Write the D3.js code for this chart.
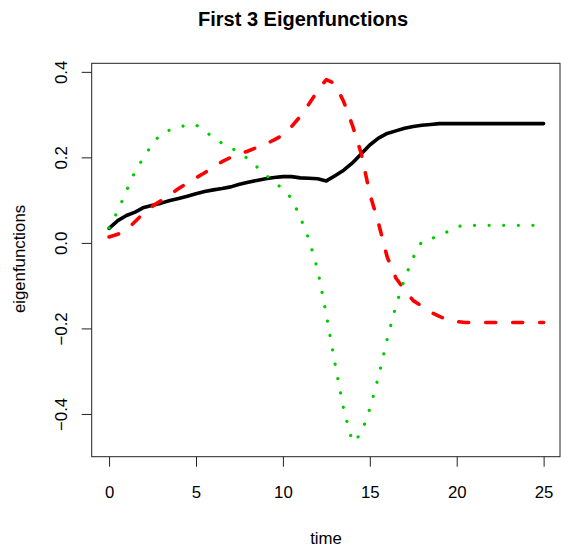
<!DOCTYPE html>
<html>
<head>
<meta charset="utf-8">
<script src="https://cdn.jsdelivr.net/npm/d3@7"></script>
<style>
  body { margin: 0; background: #fff; }
  svg { display: block; font-family: "Liberation Sans", Arial, sans-serif; }
</style>
</head>
<body>
<svg id="chart"></svg>
<script>
'use strict';

// time grid (x values)
var time = [0, 0.5, 1, 1.5, 2, 2.5, 3, 3.5, 4, 4.5, 5, 5.5, 6, 6.5, 7, 7.5, 8, 8.5, 9, 9.5,
  10, 10.5, 11, 11.5, 12, 12.5, 13, 13.5, 14, 14.5, 15, 15.5, 16, 16.5, 17, 17.5, 18, 18.5, 19, 19.5,
  20, 20.5, 21, 21.5, 22, 22.5, 23, 23.5, 24, 24.5, 25];

// eigenfunction 1 (black, solid)
var eigen1 = [0.034, 0.052, 0.064, 0.072, 0.083, 0.088, 0.093, 0.099, 0.104, 0.109,
  0.115, 0.120, 0.124, 0.127, 0.131, 0.137, 0.142, 0.146, 0.150, 0.153,
  0.155, 0.155, 0.152, 0.151, 0.150, 0.145, 0.157, 0.170, 0.187, 0.208,
  0.229, 0.245, 0.256, 0.262, 0.268, 0.272, 0.275, 0.277, 0.279, 0.279,
  0.279, 0.279, 0.279, 0.279, 0.279, 0.279, 0.279, 0.279, 0.279, 0.279, 0.279];

// eigenfunction 2 (red, dashed)
var eigen2 = [0.014, 0.020, 0.030, 0.050, 0.070, 0.086, 0.099, 0.113, 0.127, 0.140,
  0.152, 0.164, 0.177, 0.190, 0.200, 0.208, 0.215, 0.223, 0.231, 0.241,
  0.252, 0.272, 0.296, 0.325, 0.356, 0.382, 0.372, 0.330, 0.275, 0.210,
  0.115, 0.046, -0.033, -0.082, -0.110, -0.135, -0.148, -0.162, -0.172, -0.180,
  -0.184, -0.186, -0.186, -0.186, -0.186, -0.186, -0.186, -0.186, -0.186, -0.186, -0.186];

// eigenfunction 3 (green, dotted)
var eigen3 = [0.035, 0.075, 0.122, 0.168, 0.200, 0.232, 0.256, 0.264, 0.270, 0.276,
  0.276, 0.262, 0.246, 0.233, 0.222, 0.212, 0.196, 0.178, 0.159, 0.142,
  0.126, 0.104, 0.060, 0.008, -0.063, -0.168, -0.283, -0.390, -0.466, -0.447,
  -0.388, -0.313, -0.225, -0.147, -0.084, -0.034, 0.004, 0.010, 0.016, 0.027,
  0.038, 0.041, 0.041, 0.041, 0.041, 0.041, 0.041, 0.041, 0.041, 0.041, 0.041];

var xTicks = [0, 5, 10, 15, 20, 25];
var yTicks = [-0.4, -0.2, 0.0, 0.2, 0.4];

var width = 561, height = 547;
var plot = { left: 91.7, right: 561, top: 63.3, bottom: 456.7 };

var svg = d3.select('#chart')
  .attr('width', width)
  .attr('height', height);

// R style: extend the data range by 4% on each side
var x = d3.scaleLinear()
  .domain([-1, 26])
  .range([plot.left, plot.right]);
var y = d3.scaleLinear()
  .domain([-0.5, 0.42])
  .range([plot.bottom, plot.top]);

var series = [
  { values: eigen1, color: '#000000', width: 3.6, dash: null },
  { values: eigen2, color: '#FF0000', width: 3.6, dash: '10 17' },
  { values: eigen3, color: '#00CD00', width: 3.2, dash: '0.1 14.5' }
];

var line = d3.line()
  .x(function (d) { return x(d[0]); })
  .y(function (d) { return y(d[1]); });

svg.append('g')
  .selectAll('path')
  .data(series)
  .enter().append('path')
  .attr('fill', 'none')
  .attr('stroke', function (d) { return d.color; })
  .attr('stroke-width', function (d) { return d.width; })
  .attr('stroke-linecap', 'round')
  .attr('stroke-linejoin', 'round')
  .attr('stroke-dasharray', function (d) { return d.dash; })
  .attr('d', function (d) { return line(d3.zip(time, d.values)); });

// plot box
svg.append('rect')
  .attr('x', plot.left)
  .attr('y', plot.top)
  .attr('width', plot.right - plot.left - 1)
  .attr('height', plot.bottom - plot.top)
  .attr('fill', 'none')
  .attr('stroke', '#222')
  .attr('stroke-width', 1);

// x axis
var xAxis = svg.append('g')
  .attr('transform', 'translate(0,' + plot.bottom + ')')
  .call(d3.axisBottom(x).tickValues(xTicks).tickSize(10).tickFormat(d3.format('d')));
xAxis.select('.domain').remove();
xAxis.selectAll('line').attr('stroke', '#222');
xAxis.selectAll('text')
  .attr('y', 41.5)
  .attr('dy', 0)
  .attr('fill', '#000')
  .style('font-size', '16.8px');

// y axis with rotated labels
var yAxis = svg.append('g')
  .attr('transform', 'translate(' + plot.left + ',0)')
  .call(d3.axisLeft(y).tickValues(yTicks).tickSize(10).tickFormat(d3.format('.1f')));
yAxis.select('.domain').remove();
yAxis.selectAll('line').attr('stroke', '#222');
yAxis.selectAll('text')
  .attr('x', 0)
  .attr('dy', 0)
  .attr('transform', 'translate(-24.7,0) rotate(-90)')
  .attr('text-anchor', 'middle')
  .attr('fill', '#000')
  .style('font-size', '16.8px');

// title and axis labels
svg.append('text')
  .attr('x', 303)
  .attr('y', 25.5)
  .attr('text-anchor', 'middle')
  .style('font-size', '20px')
  .style('font-weight', 'bold')
  .text('First 3 Eigenfunctions');

svg.append('text')
  .attr('x', 326)
  .attr('y', 544)
  .attr('text-anchor', 'middle')
  .style('font-size', '16.8px')
  .text('time');

svg.append('text')
  .attr('transform', 'translate(25,259) rotate(-90)')
  .attr('text-anchor', 'middle')
  .style('font-size', '16.8px')
  .text('eigenfunctions');
</script>
</body>
</html>
